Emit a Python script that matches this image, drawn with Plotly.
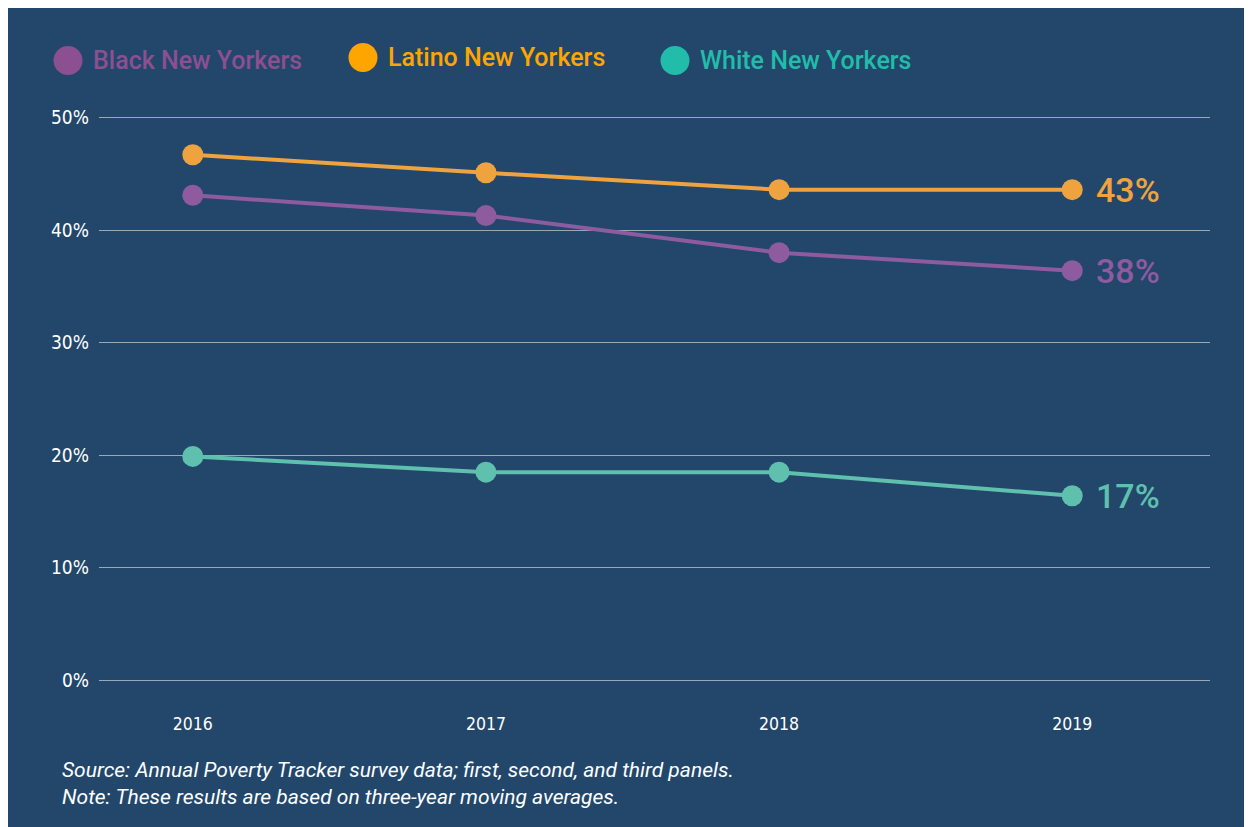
import plotly.graph_objects as go

years = [2016, 2017, 2018, 2019]
black = [43.1, 41.3, 38.0, 36.4]
latino = [46.7, 45.1, 43.6, 43.6]
white = [19.9, 18.5, 18.5, 16.4]
end_labels = {"Black New Yorkers": "38%", "Latino New Yorkers": "43%", "White New Yorkers": "17%"}
y_ticks = [0, 10, 20, 30, 40, 50]
y_tick_text = ["0%", "10%", "20%", "30%", "40%", "50%"]

BG = "#22476B"
series = [
    ("Latino New Yorkers", latino, "#EFA33F"),
    ("Black New Yorkers", black, "#8E5B9E"),
    ("White New Yorkers", white, "#5FC0AE"),
]

OFF = 8  # page offset of the figure in the screenshot
W, H = 1252, 827
L = 99 - OFF
R = W - (1210 - OFF)
T = 118 - 5.62 - OFF
B = H - (680 + 5.62 - OFF)
PW, PH = W - L - R, H - T - B

def px(x):
    return (x - OFF - L) / PW

def py(y):
    return (H - B - (y - OFF)) / PH

fig = go.Figure()
for name, vals, lc in series:
    fig.add_trace(go.Scatter(
        x=years, y=vals, mode="lines+markers", name=name,
        line=dict(color=lc, width=4),
        marker=dict(color=lc, size=21),
        showlegend=False, hoverinfo="skip",
    ))
    fig.add_annotation(
        x=years[-1], y=vals[-1], xref="x", yref="y",
        text=end_labels[name], showarrow=False, xanchor="left", yanchor="middle",
        xshift=22, font=dict(family="Roboto", size=34, color=lc, weight=500),
    )

shapes = []
legend_items = [
    ("Black New Yorkers", "#8C4F91", 68, 61),
    ("Latino New Yorkers", "#FFA500", 363, 58),
    ("White New Yorkers", "#22BDAA", 675, 61),
]
for name, col, cx, cy in legend_items:
    shapes.append(dict(type="circle", xref="paper", yref="paper",
                       xsizemode="pixel", ysizemode="pixel",
                       xanchor=px(cx), yanchor=py(cy),
                       x0=-14.5, x1=14.5, y0=-14.5, y1=14.5,
                       fillcolor=col, line=dict(width=0)))
    fig.add_annotation(x=px(cx + 23), y=py(cy), xref="paper", yref="paper",
                       text=name, showarrow=False, xanchor="left", yanchor="middle",
                       font=dict(family="Roboto", size=25, color=col, weight=500))

fig.add_annotation(x=px(60), y=py(770), xref="paper", yref="paper",
                   text="<i>Source: Annual Poverty Tracker survey data; first, second, and third panels.</i>",
                   showarrow=False, xanchor="left", yanchor="middle",
                   font=dict(family="Roboto", size=21, color="white"))
fig.add_annotation(x=px(60), y=py(796), xref="paper", yref="paper",
                   text="<i>Note: These results are based on three-year moving averages.</i>",
                   showarrow=False, xanchor="left", yanchor="middle",
                   font=dict(family="Roboto", size=21, color="white"))

TICKFONT = "DejaVu Sans Condensed, Liberation Sans Narrow, Roboto"
fig.update_layout(
    width=W, height=H,
    margin=dict(l=L, r=R, t=T, b=B, pad=0),
    paper_bgcolor=BG, plot_bgcolor=BG,
    shapes=shapes,
    xaxis=dict(range=[2015.68, 2019.47], tickvals=years, ticktext=[str(y) for y in years],
               showgrid=False, zeroline=False, showline=False,
               tickfont=dict(family=TICKFONT, size=17.5, color="white"),
               ticklabelstandoff=25),
    yaxis=dict(range=[-0.5, 50.5], tickvals=y_ticks, ticktext=y_tick_text,
               showgrid=True, gridcolor="#9AA7B4", gridwidth=1,
               zeroline=False, showline=False,
               tickfont=dict(family=TICKFONT, size=19, color="white"),
               ticklabelstandoff=9),
)

fig.write_html("out.html")
